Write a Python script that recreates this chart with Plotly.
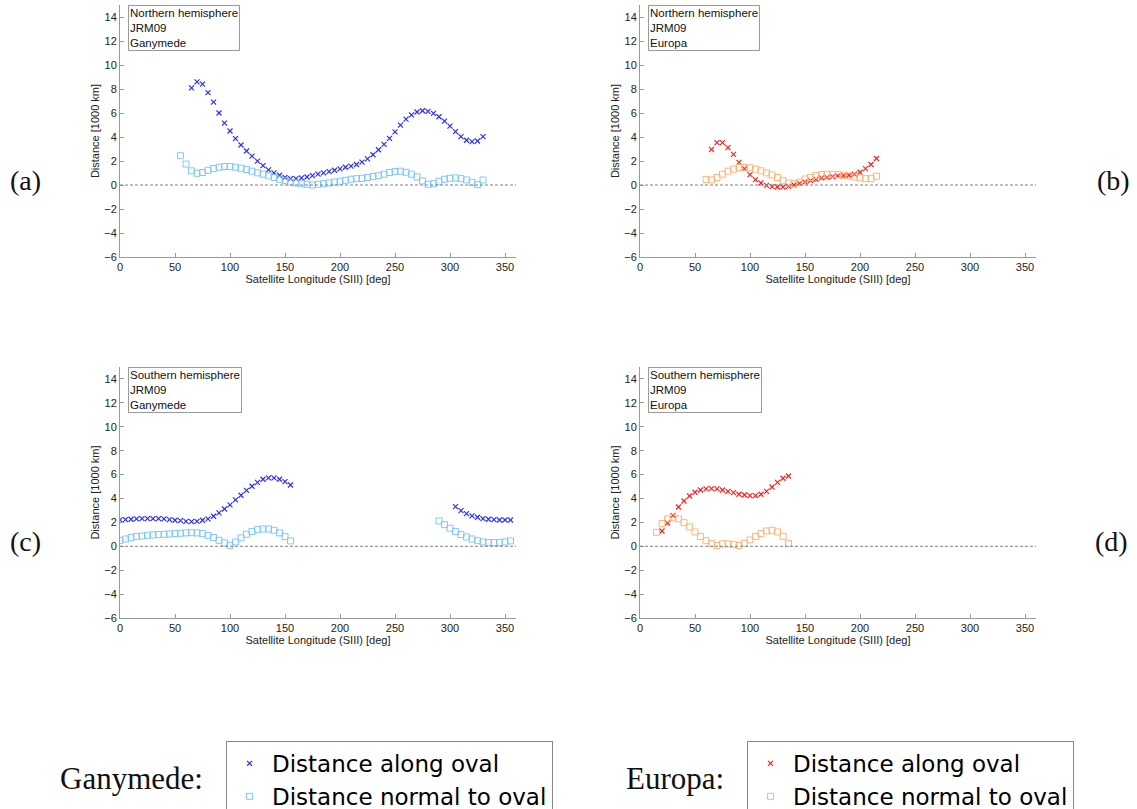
import plotly.graph_objects as go

# ---- data: distances in units of 1000 km vs. satellite SIII longitude (deg) ----
# Northern hemisphere, Ganymede
gan_n_along_lon = list(range(65, 335, 5))
gan_n_along = [8.1, 8.6, 8.4, 7.7, 6.9, 6.0, 5.15, 4.5, 3.87, 3.33, 2.83, 2.41, 1.99, 1.62,
               1.26, 1.01, 0.81, 0.64, 0.53, 0.53, 0.59, 0.67, 0.78, 0.9, 1.01, 1.12, 1.23,
               1.34, 1.48, 1.57, 1.71, 1.9, 2.18, 2.52, 2.94, 3.39, 3.89, 4.43, 4.99, 5.49,
               5.85, 6.08, 6.19, 6.13, 5.97, 5.69, 5.32, 4.9, 4.45, 4.03, 3.73, 3.61, 3.67, 4.03]
gan_n_normal_lon = list(range(55, 335, 5))
gan_n_normal = [2.44, 1.74, 1.18, 0.98, 1.04, 1.23, 1.37, 1.48, 1.54, 1.54, 1.48, 1.4, 1.29,
                1.15, 1.01, 0.9, 0.76, 0.62, 0.48, 0.36, 0.25, 0.17, 0.11, 0.06, 0.0, 0.06,
                0.11, 0.17, 0.25, 0.31, 0.39, 0.48, 0.53, 0.56, 0.62, 0.7, 0.78, 0.9, 1.04,
                1.12, 1.15, 1.06, 0.9, 0.67, 0.34, 0.06, 0.11, 0.31, 0.48, 0.56, 0.59, 0.53,
                0.42, 0.22, 0.03, 0.42]

# Northern hemisphere, Europa
eur_n_along_lon = list(range(65, 220, 5))
eur_n_along = [2.97, 3.53, 3.53, 3.11, 2.55, 1.88, 1.37, 0.87, 0.45, 0.17, -0.03, -0.14,
               -0.17, -0.17, -0.11, 0.0, 0.14, 0.25, 0.36, 0.48, 0.59, 0.64, 0.7, 0.76, 0.78,
               0.81, 0.9, 1.06, 1.37, 1.71, 2.21]
eur_n_normal_lon = list(range(60, 220, 5))
eur_n_normal = [0.45, 0.42, 0.62, 0.9, 1.15, 1.32, 1.46, 1.46, 1.43, 1.32, 1.18, 1.01, 0.84,
                0.62, 0.36, 0.17, 0.11, 0.22, 0.5, 0.64, 0.78, 0.87, 0.9, 0.9, 0.87, 0.81,
                0.76, 0.67, 0.59, 0.53, 0.53, 0.73]

# Southern hemisphere, Ganymede (two visible longitude windows)
gan_s_along_lon = list(range(0, 160, 5)) + list(range(305, 360, 5))
gan_s_along = [2.2, 2.23, 2.26, 2.29, 2.31, 2.31, 2.31, 2.31, 2.29, 2.23, 2.18, 2.15, 2.09,
               2.06, 2.09, 2.18, 2.29, 2.51, 2.79, 3.12, 3.46, 3.88, 4.27, 4.68, 5.02, 5.35,
               5.61, 5.72, 5.72, 5.61, 5.41, 5.13,
               3.32, 2.98, 2.73, 2.54, 2.43, 2.31, 2.26, 2.23, 2.2, 2.2, 2.2]
gan_s_normal_lon = list(range(0, 160, 5)) + list(range(290, 360, 5))
gan_s_normal = [0.5, 0.61, 0.73, 0.81, 0.86, 0.92, 0.95, 0.98, 1.0, 1.03, 1.06, 1.09, 1.12,
                1.14, 1.12, 1.06, 0.92, 0.73, 0.5, 0.28, 0.08, 0.36, 0.7, 1.0, 1.23, 1.39,
                1.45, 1.45, 1.34, 1.12, 0.81, 0.45,
                2.12, 1.81, 1.51, 1.23, 0.98, 0.78, 0.61, 0.47, 0.36, 0.31, 0.31, 0.31, 0.36,
                0.45]

# Southern hemisphere, Europa
eur_s_along_lon = list(range(20, 140, 5))
eur_s_along = [1.28, 1.95, 2.59, 3.29, 3.79, 4.21, 4.52, 4.71, 4.8, 4.82, 4.8, 4.71, 4.6,
               4.49, 4.35, 4.29, 4.24, 4.24, 4.35, 4.6, 4.96, 5.35, 5.69, 5.88]
eur_s_normal_lon = list(range(15, 140, 5))
eur_s_normal = [1.17, 1.9, 2.29, 2.43, 2.29, 1.98, 1.62, 1.2, 0.81, 0.47, 0.22, 0.06, 0.2,
                0.2, 0.14, 0.06, 0.25, 0.53, 0.81, 1.06, 1.28, 1.34, 1.2, 0.84, 0.25]

x_ticks = [0, 50, 100, 150, 200, 250, 300, 350]
y_ticks = [-6, -4, -2, 0, 2, 4, 6, 8, 10, 12, 14]

# ---- styling ----
W, H = 1137, 809
GAN_ALONG = "rgb(45,45,255)"
GAN_NORMAL = "rgb(125,200,255)"
EUR_ALONG = "rgb(255,30,30)"
EUR_NORMAL = "rgb(255,180,120)"
AXIS_GREY = "#9a9a9a"
SANS = "Liberation Sans, Arial, sans-serif"
SERIF = "Liberation Serif, DejaVu Serif, serif"


def px_x(p):
    return p / W


def px_y(p):
    return 1 - p / H


# panel domains (pixel edges of the plotting areas)
panels = {
    "a": dict(x=(120, 516), y=(5, 257)),
    "b": dict(x=(640, 1036), y=(5, 257)),
    "c": dict(x=(120, 516), y=(367, 618)),
    "d": dict(x=(640, 1036), y=(367, 618)),
}

fig = go.Figure()


def add_pair(idx, lon_a, val_a, lon_n, val_n, c_along, c_normal, legend, show):
    xa = "x" if idx == 1 else f"x{idx}"
    ya = "y" if idx == 1 else f"y{idx}"
    fig.add_trace(go.Scatter(
        x=lon_a, y=val_a, mode="markers", xaxis=xa, yaxis=ya,
        name="Distance along oval", legend=legend, showlegend=show,
        marker=dict(symbol="x-thin-open", size=5, color=c_along,
                    line=dict(width=1.2, color=c_along)),
    ))
    fig.add_trace(go.Scatter(
        x=lon_n, y=val_n, mode="markers", xaxis=xa, yaxis=ya,
        name="Distance normal to oval", legend=legend, showlegend=show,
        marker=dict(symbol="square-open", size=6, color=c_normal,
                    line=dict(width=1, color=c_normal)),
    ))


add_pair(1, gan_n_along_lon, gan_n_along, gan_n_normal_lon, gan_n_normal,
         GAN_ALONG, GAN_NORMAL, "legend", True)
add_pair(2, eur_n_along_lon, eur_n_along, eur_n_normal_lon, eur_n_normal,
         EUR_ALONG, EUR_NORMAL, "legend2", True)
add_pair(3, gan_s_along_lon, gan_s_along, gan_s_normal_lon, gan_s_normal,
         GAN_ALONG, GAN_NORMAL, "legend", False)
add_pair(4, eur_s_along_lon, eur_s_along, eur_s_normal_lon, eur_s_normal,
         EUR_ALONG, EUR_NORMAL, "legend2", False)

layout = dict(
    width=W, height=H,
    margin=dict(l=0, r=0, t=0, b=0, autoexpand=False),
    paper_bgcolor="white", plot_bgcolor="white",
    font=dict(family=SANS, size=11, color="#222"),
    showlegend=True,
)

axis_common = dict(
    showgrid=False, zeroline=False, showline=True, linecolor=AXIS_GREY, linewidth=1,
    ticks="inside", ticklen=4, tickcolor=AXIS_GREY, tickfont=dict(size=11, color="#222"),
    mirror=False, automargin=False,
)

shapes = []
annotations = []
texts = {
    "a": "Northern hemisphere<br>JRM09<br>Ganymede",
    "b": "Northern hemisphere<br>JRM09<br>Europa",
    "c": "Southern hemisphere<br>JRM09<br>Ganymede",
    "d": "Southern hemisphere<br>JRM09<br>Europa",
}

for i, key in enumerate(["a", "b", "c", "d"], start=1):
    p = panels[key]
    xname = "xaxis" if i == 1 else f"xaxis{i}"
    yname = "yaxis" if i == 1 else f"yaxis{i}"
    xref = "x" if i == 1 else f"x{i}"
    yref = "y" if i == 1 else f"y{i}"
    layout[xname] = dict(
        axis_common, domain=[px_x(p["x"][0]), px_x(p["x"][1])], range=[0, 360],
        tickvals=x_ticks, anchor=yref,
        title=dict(text="Satellite Longitude (SIII) [deg]", font=dict(size=11), standoff=0),
    )
    layout[yname] = dict(
        axis_common, domain=[px_y(p["y"][1]), px_y(p["y"][0])], range=[-6, 15],
        tickvals=y_ticks, anchor=xref,
        title=dict(text="Distance [1000 km]", font=dict(size=11), standoff=2),
    )
    # dashed reference line at zero distance
    shapes.append(dict(type="line", xref=xref, yref=yref, x0=0, x1=360, y0=0, y1=0,
                       line=dict(color="#808080", width=1, dash="3px,2px")))
    # info box in the upper-left corner of each panel
    annotations.append(dict(
        xref=f"{xref} domain", yref=f"{yref} domain", x=0.02, y=1.0,
        xanchor="left", yanchor="top", align="left", showarrow=False,
        text=texts[key], font=dict(size=11.5, color="#111"),
        bordercolor="#9a9a9a", borderwidth=1, borderpad=1, bgcolor="white",
    ))

# panel letters
for label, xp, yp in [("(a)", 25, 180), ("(b)", 1113, 180), ("(c)", 25, 541), ("(d)", 1111, 541)]:
    annotations.append(dict(xref="paper", yref="paper", x=px_x(xp), y=px_y(yp),
                            xanchor="center", yanchor="middle", showarrow=False,
                            text=label, font=dict(family=SERIF, size=28, color="#111")))

# legend captions
annotations.append(dict(xref="paper", yref="paper", x=px_x(205), y=px_y(778),
                        xanchor="right", yanchor="middle", showarrow=False,
                        text="Ganymede:", font=dict(family=SERIF, size=31, color="#111")))
annotations.append(dict(xref="paper", yref="paper", x=px_x(726), y=px_y(778),
                        xanchor="right", yanchor="middle", showarrow=False,
                        text="Europa:", font=dict(family=SERIF, size=31, color="#111")))

legend_style = dict(
    font=dict(family="DejaVu Sans, sans-serif", size=23, color="#000"),
    bordercolor="#888", borderwidth=1, bgcolor="white",
    xanchor="left", yanchor="top", tracegroupgap=0, itemsizing="trace", itemwidth=35,
)
layout["legend"] = dict(legend_style, x=px_x(226), y=px_y(741))
layout["legend2"] = dict(legend_style, x=px_x(747), y=px_y(741))

layout["shapes"] = shapes
layout["annotations"] = annotations
fig.update_layout(**layout)

fig.write_html("out.html")
